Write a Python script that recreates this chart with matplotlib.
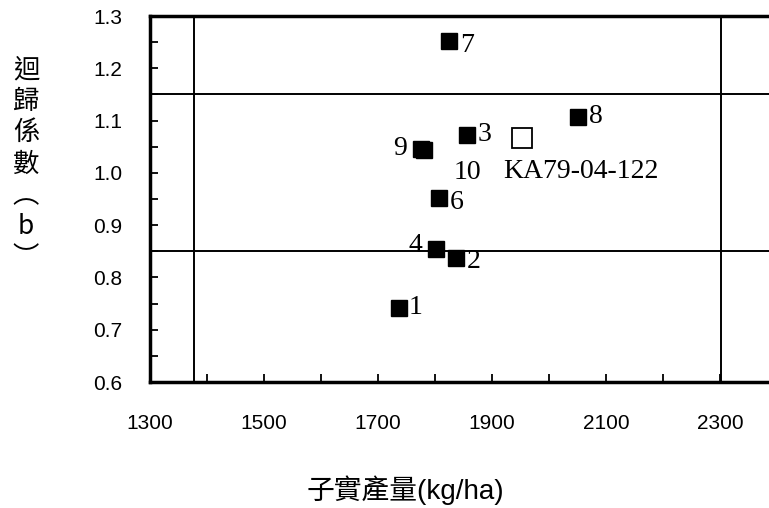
import numpy as np
import matplotlib
matplotlib.use("Agg")
import matplotlib.pyplot as plt

plt.rcParams["font.family"] = ["Liberation Sans", "Noto Sans CJK TC"]

# 品系產量與迴歸係數
labels = ["1", "2", "3", "4", "6", "7", "8", "9", "10"]
yield_kg = [1736, 1836, 1856, 1802, 1807, 1824, 2050, 1775, 1781]
b_coef = [0.742, 0.838, 1.073, 0.854, 0.952, 1.252, 1.106, 1.046, 1.044]
check_name = "KA79-04-122"
check_yield = 1952
check_b = 1.066
h_lines = [1.15, 0.85]
v_lines = [1378, 2302]
x_ticks = [1300, 1500, 1700, 1900, 2100, 2300]
y_ticks = [0.6, 0.7, 0.8, 0.9, 1.0, 1.1, 1.2, 1.3]

fig = plt.figure(figsize=(7.69, 5.08), dpi=100)
ax = fig.add_axes([150 / 769, 1 - 382 / 508, 684 / 769, 366 / 508])

for y in h_lines:
    ax.axhline(y, color="black", lw=1.4, zorder=1)
for x in v_lines:
    ax.axvline(x, color="black", lw=1.4, zorder=1)

ax.plot(yield_kg, b_coef, "s", color="black", ms=11, zorder=3)
ax.plot([check_yield], [check_b], "s", mfc="white", mec="black", mew=1.3, ms=15, zorder=3)

# 點的標籤
offsets = {"1": (7, 0, "left"), "2": (8, -3, "left"), "3": (8, 0, "left"),
           "4": (-10, 3, "right"), "6": (8, -3, "left"), "7": (8, -3, "left"),
           "8": (8, 1, "left"), "9": (-10, 0, "right"), "10": (21, -16, "left")}
for lab, x, y in zip(labels, yield_kg, b_coef):
    dx, dy, ha = offsets[lab]
    ax.annotate(lab, (x, y), xytext=(dx, dy), textcoords="offset points",
                ha=ha, va="center", fontsize=20, family="Liberation Serif")
ax.annotate(check_name, (check_yield, check_b), xytext=(-13, -24), textcoords="offset points",
            ha="left", va="center", fontsize=20, family="Liberation Serif")

ax.set_xlim(1300, 2500)
ax.set_ylim(0.6, 1.3)
ax.set_xticks(x_ticks)
ax.set_xticks([v + 100 for v in x_ticks], minor=True)
ax.set_yticks(y_ticks)
ax.set_yticks([v + 0.05 for v in y_ticks[:-1]], minor=True)
ax.set_yticklabels([f"{v:.1f}" for v in y_ticks])
ax.tick_params(which="both", direction="in", length=6, width=1.3, labelsize=15,
               right=False, top=False)
ax.tick_params(axis="y", pad=20)
ax.tick_params(axis="x", pad=23)
for s in ["left", "bottom", "top", "right"]:
    ax.spines[s].set_linewidth(2.5)

fig.text(26 / 769, 1 - 164 / 508, "\n".join("迴歸係數︵b︶"), ha="center", va="center",
         fontsize=19, family=["Noto Sans CJK TC", "DejaVu Sans"], linespacing=1.2)
fig.text(405 / 769, 1 - 490 / 508, "子實產量(kg/ha)", ha="center", va="center",
         fontsize=20)

fig.savefig("out.png", dpi=100)
